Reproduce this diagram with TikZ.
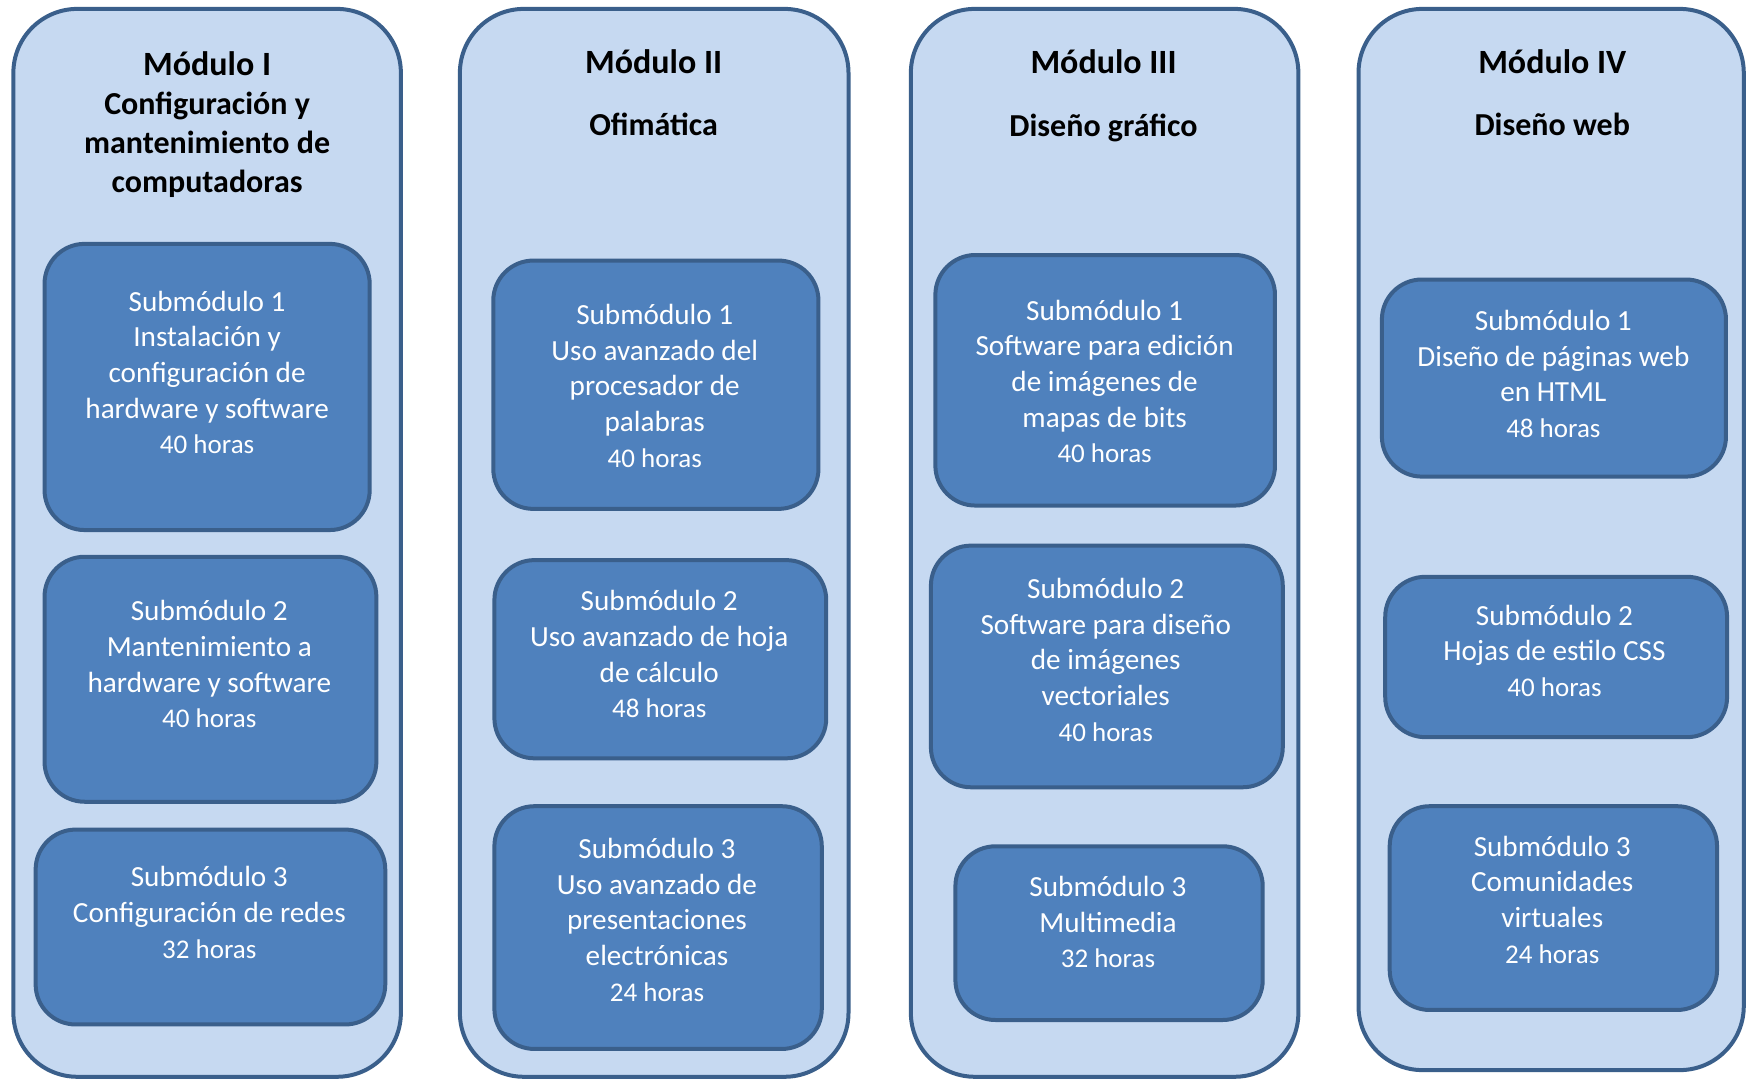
\documentclass[tikz,border=0pt]{standalone}
\usepackage{fontspec}
\setmainfont{Carlito}
\definecolor{modfill}{HTML}{C6D9F1}
\definecolor{subfill}{HTML}{4F81BD}
\definecolor{edge}{HTML}{3A5F8B}
\newcommand{\hfont}{\fontsize{13.5}{17}\selectfont}
\newcommand{\mfont}{\fontsize{17}{20}\selectfont}

\begin{document}
\begin{tikzpicture}[x=0.5568pt,y=-0.5568pt,
  modbox/.style={draw=edge,line width=2pt,fill=modfill,rounded corners=32pt},
  subbox/.style={draw=edge,line width=2pt,fill=subfill,rounded corners=20pt},
  modtitle/.style={align=center,font=\fontsize{16}{19.5}\selectfont\bfseries},
  subtext/.style={align=center,text=white,font=\fontsize{14.6}{17.8}\selectfont}]
\useasboundingbox (0,0) rectangle (1568,969);
\draw[modbox] (12,8) rectangle (360,967);
\draw[modbox] (413,8) rectangle (762,967);
\draw[modbox] (818,8) rectangle (1166,967);
\draw[modbox] (1220,8) rectangle (1566,961);
\node[modtitle] (m1t) at (186,111.5) {{\mfont Módulo I}\\Configuración y\\mantenimiento de\\computadoras};
\node[modtitle] (m2t) at (587,83.5) {{\mfont Módulo II}\\[11.7pt]Ofimática};
\node[modtitle] (m3t) at (991,86) {{\mfont Módulo III}\\[11.7pt]Diseño gráfico};
\node[modtitle] (m4t) at (1394,83.5) {{\mfont Módulo IV}\\[11.7pt]Diseño web};
\draw[subbox] (40,219) rectangle (332,476);
\draw[subbox] (40,500) rectangle (338,720);
\draw[subbox] (32,745) rectangle (346,920);
\draw[subbox] (443,234) rectangle (735,457);
\draw[subbox] (444,503) rectangle (742,681);
\draw[subbox] (444,724) rectangle (738,942);
\draw[subbox] (840,229) rectangle (1145,454);
\draw[subbox] (836,490) rectangle (1152,707);
\draw[subbox] (858,760) rectangle (1134,916);
\draw[subbox] (1241,251) rectangle (1550,428);
\draw[subbox] (1244,518) rectangle (1551,662);
\draw[subbox] (1248,724) rectangle (1542,907);
\node[subtext] (m1s1) at (186,334.5) {Submódulo 1\\Instalación y\\configuración de\\hardware y software\\{\hfont 40 horas}};
\node[subtext] (m1s2) at (188,596.5) {Submódulo 2\\Mantenimiento a\\hardware y software\\{\hfont 40 horas}};
\node[subtext] (m1s3) at (188,819.5) {Submódulo 3\\Configuración de redes\\{\hfont 32 horas}};
\node[subtext] (m2s1) at (588,346.5) {Submódulo 1\\Uso avanzado del\\procesador de\\palabras\\{\hfont 40 horas}};
\node[subtext] (m2s2) at (592,587.5) {Submódulo 2\\Uso avanzado de hoja\\de cálculo\\{\hfont 48 horas}};
\node[subtext] (m2s3) at (590,826) {Submódulo 3\\Uso avanzado de\\presentaciones\\electrónicas\\{\hfont 24 horas}};
\node[subtext] (m3s1) at (992,342.5) {Submódulo 1\\Software para edición\\de imágenes de\\mapas de bits\\{\hfont 40 horas}};
\node[subtext] (m3s2) at (993,592.5) {Submódulo 2\\Software para diseño\\de imágenes\\vectoriales\\{\hfont 40 horas}};
\node[subtext] (m3s3) at (995,828) {Submódulo 3\\Multimedia\\{\hfont 32 horas}};
\node[subtext] (m4s1) at (1395,336) {Submódulo 1\\Diseño de páginas web\\en HTML\\{\hfont 48 horas}};
\node[subtext] (m4s2) at (1396,584.5) {Submódulo 2\\Hojas de estilo CSS\\{\hfont 40 horas}};
\node[subtext] (m4s3) at (1394,808) {Submódulo 3\\Comunidades\\virtuales\\{\hfont 24 horas}};
\end{tikzpicture}
\end{document}
